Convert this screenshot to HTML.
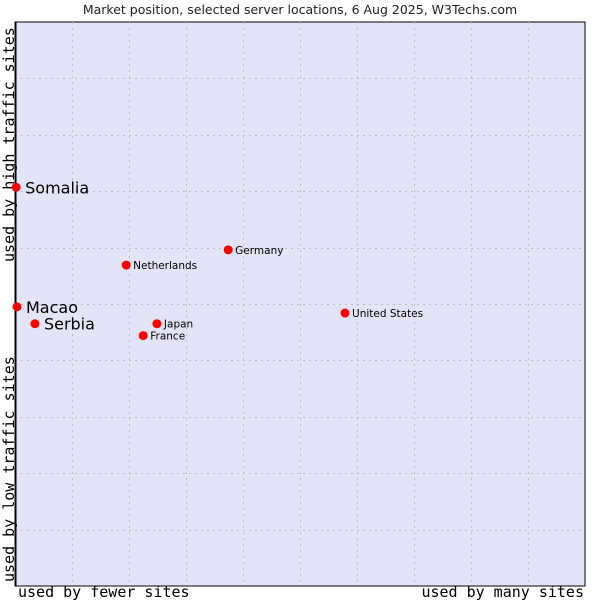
<!DOCTYPE html>
<html><head><meta charset="utf-8"><style>
html,body{margin:0;padding:0;background:#fff;}
svg{display:block;}
</style></head><body>
<svg id="chart" width="600" height="600" xmlns="http://www.w3.org/2000/svg">
<text x="300" y="14" text-anchor="middle" font-family="DejaVu Sans, sans-serif" font-size="12.5" fill="#222">Market position, selected server locations, 6 Aug 2025, W3Techs.com</text>
<rect x="15" y="22" width="570" height="564" fill="#e3e4f8" stroke="#000" stroke-width="1"/>
<g id="grid"></g>
<line x1="15.5" y1="22" x2="15.5" y2="586" stroke="#000" stroke-width="2"/>
<text transform="translate(14,262) rotate(-90)" font-family="DejaVu Sans Mono, monospace" font-size="15" fill="#000">used by high traffic sites</text>
<text transform="translate(14,582) rotate(-90)" font-family="DejaVu Sans Mono, monospace" font-size="15" fill="#000">used by low traffic sites</text>
<text x="18" y="597" font-family="DejaVu Sans Mono, monospace" font-size="15" fill="#000">used by fewer sites</text>
<text x="584" y="597" text-anchor="end" font-family="DejaVu Sans Mono, monospace" font-size="15" fill="#000">used by many sites</text>
<g id="points"></g>
</svg>
<script>
const names = ["Somalia","Macao","Serbia","Netherlands","Germany","United States","Japan","France"];
const xValues = [0.2,0.35,3.5,19.5,37.4,57.9,24.9,22.5];
const yValues = [70.7,49.5,46.5,56.9,59.6,48.4,46.5,44.4];
const bigLabel = [true,true,true,false,false,false,false,false];

const X0=15,X1=585,Y0=586,Y1=22;
function sx(v){return X0+(X1-X0)*v/100;}
function sy(v){return Y0-(Y0-Y1)*v/100;}
const NS="http://www.w3.org/2000/svg";
const grid=document.getElementById('grid');
for(let i=1;i<10;i++){
  const vx=document.createElementNS(NS,'line');
  
  
  const x=Math.round(sx(i*10))+0.5;
  vx.setAttribute('x1',x);vx.setAttribute('x2',x);vx.setAttribute('y1',Y1);vx.setAttribute('y2',Y0);
  vx.setAttribute('stroke','#c0c0c0');vx.setAttribute('stroke-dasharray','2,4');
  grid.appendChild(vx);
  const hz=document.createElementNS(NS,'line');
  
  
  const y=Math.round(sy(i*10))+0.5;
  hz.setAttribute('x1',X0);hz.setAttribute('x2',X1);hz.setAttribute('y1',y);hz.setAttribute('y2',y);
  hz.setAttribute('stroke','#c0c0c0');hz.setAttribute('stroke-dasharray','2,4');
  grid.appendChild(hz);
}
const pts=document.getElementById('points');
for(let i=0;i<names.length;i++){
  const cx=sx(xValues[i]),cy=sy(yValues[i]);
  const c=document.createElementNS(NS,'circle');
  
  
  c.setAttribute('cx',cx);c.setAttribute('cy',cy);c.setAttribute('r',4.5);c.setAttribute('fill','#f00');
  pts.appendChild(c);
  const t=document.createElementNS(NS,'text');
  
  
  t.setAttribute('font-family','DejaVu Sans, sans-serif');
  t.setAttribute('fill','#000');
  if(bigLabel[i]){t.setAttribute('x',cx+9);t.setAttribute('y',cy+6);t.setAttribute('font-size','16');}
  else{t.setAttribute('x',cx+7);t.setAttribute('y',cy+4);t.setAttribute('font-size','10.5');}
  t.textContent=names[i];
  pts.appendChild(t);
}
</script>
</body></html>
